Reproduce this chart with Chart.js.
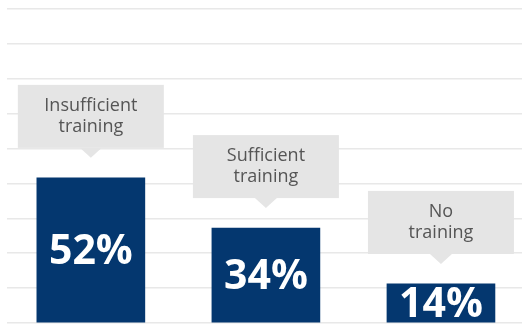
<!DOCTYPE html>
<html>
<head>
<meta charset="utf-8">
<script src="https://cdn.jsdelivr.net/npm/chart.js@4/dist/chart.umd.min.js"></script>
<style>
  html, body { margin: 0; padding: 0; background: #ffffff; overflow: hidden; }
  #wrap { position: relative; width: 522px; height: 324px; }
</style>
</head>
<body>
<div id="wrap"><canvas id="chart" width="522" height="324"></canvas></div>
<script>
// Training share by category
const categories = [["Insufficient", "training"], ["Sufficient", "training"], ["No", "training"]];
const shares = [52, 34, 14];
const valueLabels = ["52%", "34%", "14%"];

const NAVY = "#04376f";
const CALLOUT_BG = "#e5e5e5";
const CALLOUT_TEXT = "#555555";

// Grey callout boxes with a downward pointer above each bar
const calloutPlugin = {
  id: "callouts",
  afterDatasetsDraw(chart) {
    const ctx = chart.ctx;
    const meta = chart.getDatasetMeta(0);
    meta.data.forEach((bar, i) => {
      const cx = bar.x;
      const boxW = 146, boxH = 63, tri = 10, triHalf = 11, gap = 20;
      const tipY = bar.y - gap;
      const boxBottom = tipY - tri;
      const boxTop = boxBottom - boxH;
      ctx.save();
      ctx.fillStyle = CALLOUT_BG;
      ctx.fillRect(cx - boxW / 2, boxTop, boxW, boxH);
      ctx.beginPath();
      ctx.moveTo(cx - triHalf, boxBottom);
      ctx.lineTo(cx + triHalf, boxBottom);
      ctx.lineTo(cx, tipY);
      ctx.closePath();
      ctx.fill();
      ctx.fillStyle = CALLOUT_TEXT;
      ctx.font = "18px 'Open Sans', sans-serif";
      ctx.textAlign = "center";
      ctx.textBaseline = "middle";
      const lines = categories[i];
      const lh = 21;
      const mid = boxTop + boxH / 2;
      lines.forEach((t, k) => {
        ctx.fillText(t, cx, mid + (k - (lines.length - 1) / 2) * lh);
      });
      // value label centred in the bar
      const bottom = bar.base;
      ctx.fillStyle = "#ffffff";
      ctx.font = "bold 41px 'Open Sans', sans-serif";
      ctx.fillText(valueLabels[i], cx, (bar.y + bottom) / 2 + 2);
      ctx.restore();
    });
  }
};

new Chart(document.getElementById("chart"), {
  type: "bar",
  data: {
    datasets: [{
      data: shares.map((v, i) => ({ x: i, y: v })),
      backgroundColor: NAVY,
      borderWidth: 0,
      barThickness: 108
    }]
  },
  options: {
    responsive: false,
    animation: false,
    layout: { padding: { top: 9, bottom: 1, left: 7, right: 0 } },
    plugins: { legend: { display: false }, tooltip: { enabled: false } },
    scales: {
      x: {
        type: "linear",
        display: false,
        offset: false,
        min: -0.479,
        max: 2.463
      },
      y: {
        min: 0,
        max: 112.5,
        grid: { color: "#e8e8e8", lineWidth: 1.6, drawTicks: false },
        border: { display: false },
        ticks: { display: false, stepSize: 12.5 }
      }
    }
  },
  plugins: [calloutPlugin]
});
</script>
</body>
</html>
